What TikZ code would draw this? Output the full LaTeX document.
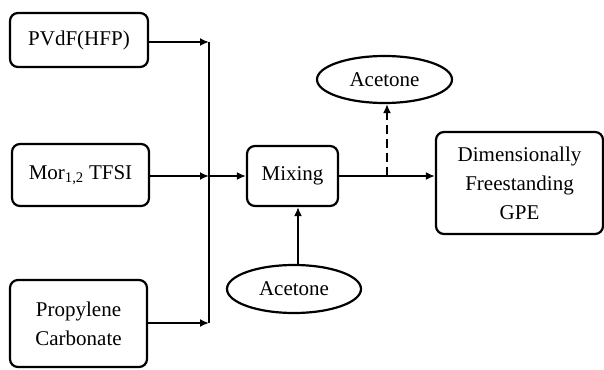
\documentclass[tikz,border=0pt]{standalone}
\usepackage{fontspec}
\setmainfont{LiberationSerif}[Extension=.ttf, UprightFont=*-Regular, BoldFont=*-Bold, ItalicFont=*-Italic, BoldItalicFont=*-BoldItalic]
\usetikzlibrary{arrows.meta,shapes.geometric}

\tikzset{
  procbox/.style={draw, line width=2.2pt, rounded corners=8pt, align=center, inner sep=0pt},
  solvent/.style={draw, line width=2.2pt, ellipse, inner sep=0pt},
  flow/.style={line width=2.8pt, -{Latex[length=9pt,width=8pt]}},
}

\begin{document}
\begin{tikzpicture}[x=1pt, y=-1pt, font=\fontsize{21}{29}\selectfont]

  %% ════ 输入框 ════
  \node[procbox, minimum width=138pt, minimum height=54pt] (pvdf) at (79,40) {PVdF(HFP)};
  \node[procbox, minimum width=137pt, minimum height=62pt] (mor)  at (80.5,175) {Mor\textsubscript{1,2} TFSI};
  \node[procbox, minimum width=137pt, minimum height=87pt] (pc)   at (78.5,323.5) {Propylene\\Carbonate};

  %% ════ 混合 / 产物 ════
  \node[procbox, minimum width=91pt, minimum height=60pt] (mixing) at (292.5,176) {Mixing};
  \node[procbox, minimum width=167pt, minimum height=102pt] (gpe) at (519.5,183) {Dimensionally\\Freestanding\\GPE};

  %% ════ 丙酮 ════
  \node[solvent, minimum width=134pt, minimum height=48pt] (acetoneIn)  at (294,289) {Acetone};
  \node[solvent, minimum width=135pt, minimum height=47pt] (acetoneOut) at (384.5,79.5) {Acetone};

  %% ════ 汇流 ════
  \coordinate (busTop) at (209,42);
  \coordinate (busBot) at (209,323);
  \coordinate (busMid) at (209,176);
  \coordinate (split)  at (387,176);

  \draw[flow] (pvdf.east |- busTop) -- (busTop);
  \draw[flow] (mor.east |- busMid) -- (busMid);
  \draw[flow] (pc.east |- busBot) -- (busBot);
  \draw[line width=2.8pt] (busTop) -- (busBot);
  \draw[flow] (busMid) -- (mixing.west |- busMid);

  \draw[flow] (mixing.east |- split) -- (gpe.west |- split);
  \draw[flow, dashed, dash pattern=on 9pt off 5pt] (split) -- (split |- acetoneOut.south);
  \draw[flow] (acetoneIn.north -| 298,0) -- (298,0 |- mixing.south);

  \pgfresetboundingbox
  \path[use as bounding box] (0,0) rectangle (604,369);
\end{tikzpicture}
\end{document}
